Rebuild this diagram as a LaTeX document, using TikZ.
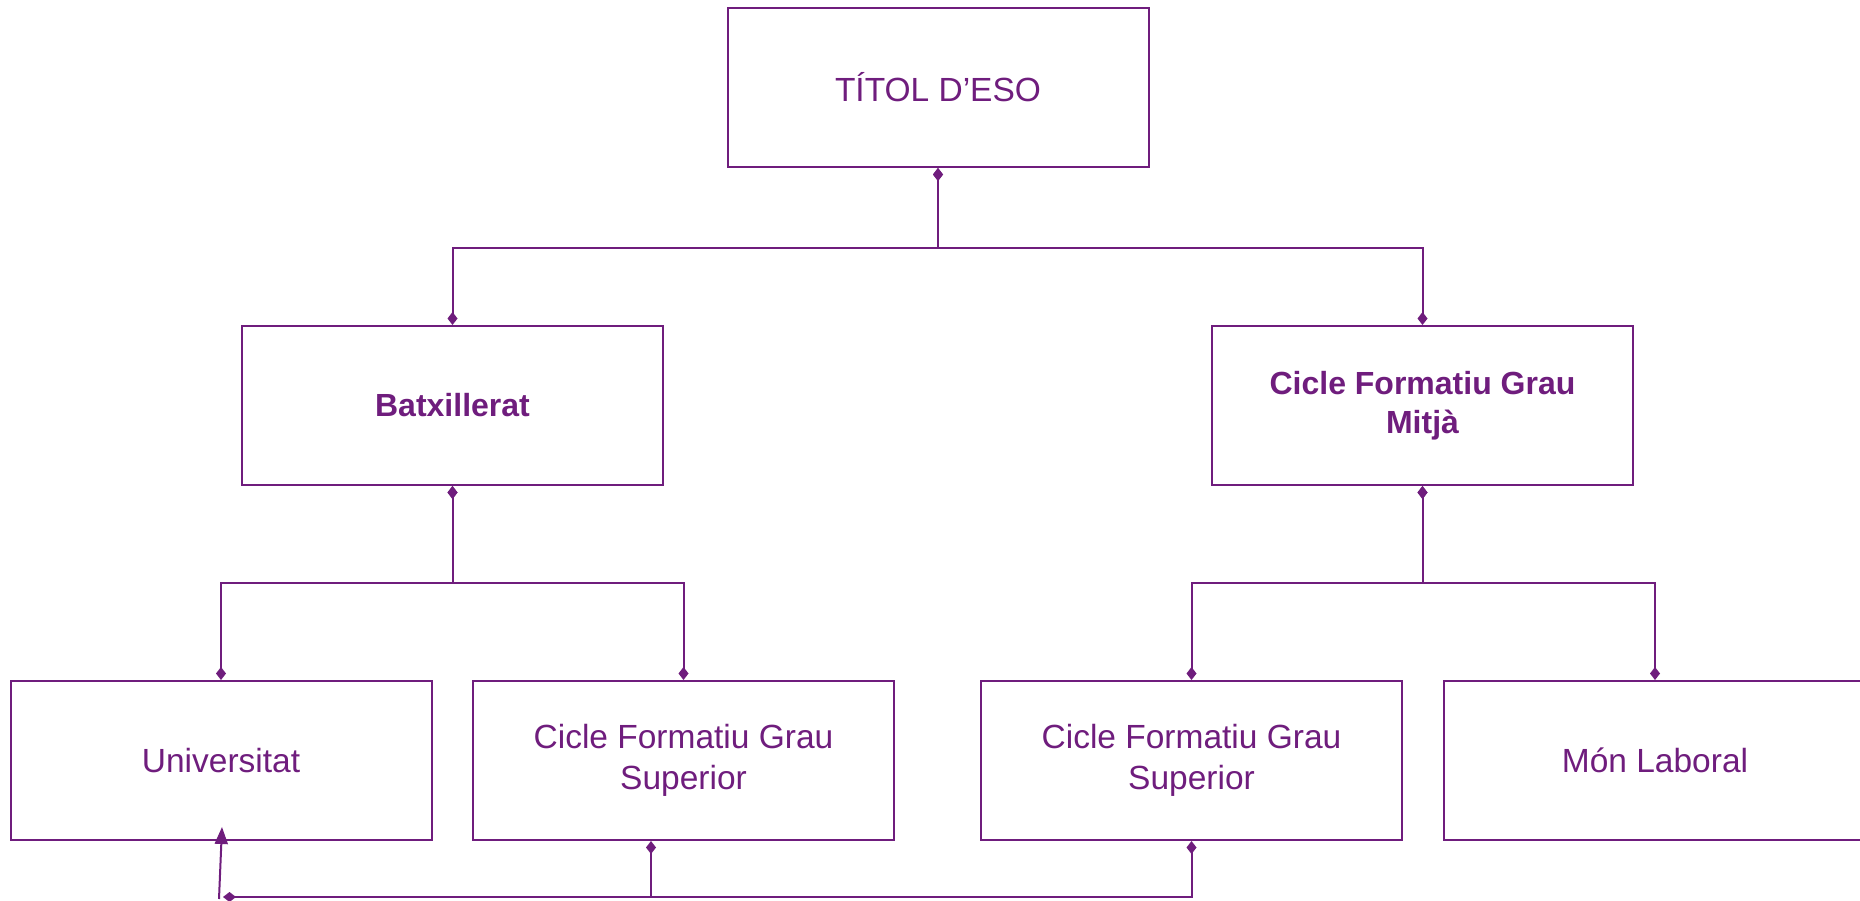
\documentclass[tikz,border=0pt]{standalone}
\usepackage{fontspec}
\setmainfont{Liberation Sans}
\usetikzlibrary{arrows.meta}
\definecolor{purp}{HTML}{6F1D7D}
\tikzset{
  box/.style={draw=purp, line width=2pt, minimum width=421pt, minimum height=159pt,
    inner sep=0pt, text=purp, align=center, font=\fontsize{33.5}{41.5}\selectfont},
  bbox/.style={box, font=\fontsize{32}{39}\selectfont\bfseries},
  link/.style={draw=purp, line width=2pt, {Diamond[length=13pt,width=10pt]}-{Diamond[length=13pt,width=10pt]}},
  tail/.style={draw=purp, line width=2pt, {Diamond[length=13pt,width=10pt]}-},
  uparrow/.style={draw=purp, line width=2pt, -{Triangle[length=17pt,width=13pt]}}
}
\begin{document}
\begin{tikzpicture}[x=1pt,y=-1pt]
\useasboundingbox (0,0) rectangle (1860,901);
\begin{scope}
\clip (0,0) rectangle (1860,901);

% nodes
\node[box] (titol) at (938,87.5) {TÍTOL D’ESO};
\node[bbox] (batx) at (452.5,405.5) {Batxillerat};
\node[bbox] (cfgm) at (1422.5,405.5) {Cicle Formatiu Grau\\Mitjà};
\node[box] (univ) at (221,760.5) {Universitat};
\node[box] (cfgsa) at (683.5,760.5) {Cicle Formatiu Grau\\Superior};
\node[box] (cfgsb) at (1191.5,760.5) {Cicle Formatiu Grau\\Superior};
\node[box, minimum width=422pt] (mon) at (1655,760.5) {Món Laboral};

% connectors
\draw[link] (titol.south) -- ++(0,80) -| (batx.north);
\draw[link] (titol.south) -- ++(0,80) -| (cfgm.north);
\draw[link] (batx.south) -- ++(0,97) -| (univ.north);
\draw[link] (batx.south) -- ++(0,97) -| (cfgsa.north);
\draw[link] (cfgm.south) -- ++(0,97) -| (cfgsb.north);
\draw[link] (cfgm.south) -- ++(0,97) -| (mon.north);

\coordinate (join) at (223,897);
\coordinate (foot) at (219,899);
\draw[link] (cfgsb.south) |- (join);
\draw[tail] ([xshift=-32.5pt]cfgsa.south) -- ++(0,57);
\draw[uparrow] (foot) -- ([xshift=1pt,yshift=14pt]univ.south);
\end{scope}
\end{tikzpicture}
\end{document}
